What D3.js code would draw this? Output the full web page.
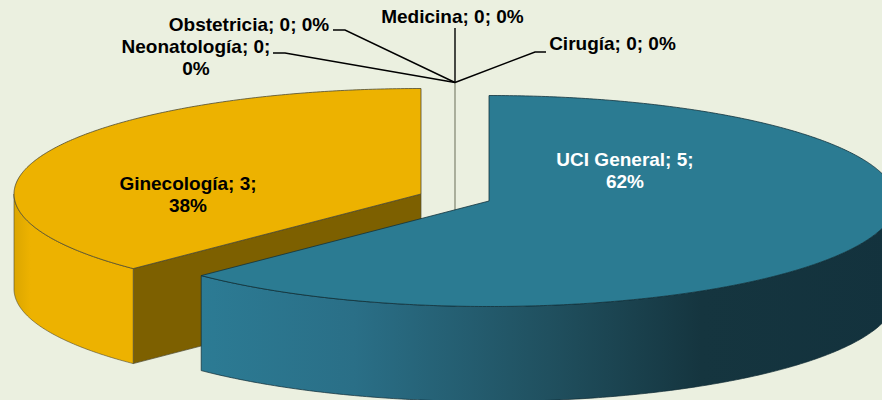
<!DOCTYPE html>
<html><head><meta charset="utf-8">
<script src="https://cdnjs.cloudflare.com/ajax/libs/d3/7.8.5/d3.min.js"></script>
<style>html,body{margin:0;padding:0;background:#EBF0E0}svg{display:block}text{font-family:"Liberation Sans",Arial,sans-serif;font-weight:bold;font-size:19px}</style>
</head><body><svg id="c" width="882" height="400"></svg>
<script>
const categories = ["UCI General","Ginecología","Neonatología","Obstetricia","Medicina","Cirugía"];
const values = [5,3,0,0,0,0];
const percents = [62,38,0,0,0,0];

const W=882,H=400,RX=407,RY=105.5,DEPTH=95;
const CENTER=[455,188];
const explode=[[34,13],[-34,6],[0,0],[0,0],[0,0],[0,0]];
const labelLayout=[
 {lines:["UCI General; 5;","62%"],x:625,y:166,fill:"#fff"},
 {lines:["Ginecología; 3;","38%"],x:188,y:190,fill:"#000"},
 {lines:["Neonatología; 0;","0%"],x:196,y:53,fill:"#000"},
 {lines:["Obstetricia; 0; 0%"],x:249,y:31,fill:"#000"},
 {lines:["Medicina; 0; 0%"],x:452.5,y:23,fill:"#000"},
 {lines:["Cirugía; 0; 0%"],x:612.5,y:50,fill:"#000"}];
const leaders=[null,null,
 [[273,53],[285,53]],[[333,30],[345,30]],[[455,28]],[[546,52],[535,52]]];

const svg=d3.select("#c");
svg.append("rect").attr("width",W).attr("height",H).attr("fill","#EBF0E0");
const defs=svg.append("defs");
function grad(id,stops,x1,x2){
  const g=defs.append("linearGradient").attr("id",id).attr("gradientUnits","userSpaceOnUse")
    .attr("x1",x1).attr("x2",x2).attr("y1",0).attr("y2",0);
  stops.forEach(s=>g.append("stop").attr("offset",s[0]).attr("stop-color",s[1]));
}
grad("wallTeal",[[0,"#2C7B94"],[.22,"#2A6F87"],[.5,"#20505F"],[.72,"#15353F"],[1,"#13323D"]],201,896);
grad("wallGold",[[0,"#DBA600"],[.14,"#EDB200"],[1,"#EDB200"]],14,133);

const pie=d3.pie().sort(null).value(d=>d).startAngle(0).endAngle(2*Math.PI);
const arcs=pie(values);
const px=d3.scaleLinear().domain([-1,1]).range([-RX,RX]);
const py=d3.scaleLinear().domain([-1,1]).range([-RY,RY]);
const pt=(a,c)=>[c[0]+px(Math.sin(a)),c[1]-py(Math.cos(a))];
const line=d3.line();
function arcPts(a0,a1,c,dy=0){
  const n=Math.max(2,Math.ceil(Math.abs(a1-a0)/0.01));
  return d3.range(n+1).map(i=>{const p=pt(a0+(a1-a0)*i/n,c);return [p[0],p[1]+dy];});
}
const centerOf=i=>[CENTER[0]+explode[i][0],CENTER[1]+explode[i][1]];
const edge="#4E4A30";
const g=svg.append("g");

g.append("line").attr("x1",CENTER[0]).attr("x2",CENTER[0])
  .attr("y1",CENTER[1]-RY).attr("y2",CENTER[1]+DEPTH)
  .attr("stroke","#8E927E").attr("stroke-width",1.4);

(function(){
  const a=arcs[1],c=centerOf(1),p=pt(a.startAngle,c);
  g.append("path").attr("d",line([c,p,[p[0],p[1]+DEPTH],[c[0],c[1]+DEPTH]])+"Z")
    .attr("fill","#7D6000").attr("stroke",edge).attr("stroke-width",.7);
  const top=arcPts(a.startAngle,Math.max(a.endAngle,0),c);
  const wallT=arcPts(a.startAngle,3*Math.PI/2,c);
  const wallB=arcPts(3*Math.PI/2,a.startAngle,c,DEPTH);
  g.append("path").attr("d",line(wallT.concat(wallB))+"Z").attr("fill","url(#wallGold)")
    .attr("stroke",edge).attr("stroke-width",.6);
  g.append("path").attr("d",line([c].concat(top))+"Z").attr("fill","#EDB200")
    .attr("stroke",edge).attr("stroke-width",.8);
})();

(function(){
  const a=arcs[0],c=centerOf(0);
  const wallT=arcPts(Math.PI/2,a.endAngle,c);
  const wallB=arcPts(a.endAngle,Math.PI/2,c,DEPTH);
  g.append("path").attr("d",line(wallT.concat(wallB))+"Z").attr("fill","url(#wallTeal)")
    .attr("stroke","#0F2A33").attr("stroke-width",.7);
  g.append("path").attr("d",line([c].concat(arcPts(a.startAngle,a.endAngle,c)))+"Z")
    .attr("fill","#2B7B92").attr("stroke","#12323C").attr("stroke-width",.8);
})();

const apex=[CENTER[0],CENTER[1]-RY];
leaders.forEach(l=>{ if(l) svg.append("path").attr("d",line(l.concat([apex])))
  .attr("fill","none").attr("stroke","#000").attr("stroke-width",1.4); });

labelLayout.forEach((l,i)=>{
  const t=svg.append("text").attr("text-anchor","middle").attr("fill",l.fill);
  l.lines.forEach((s,j)=>t.append("tspan").attr("x",l.x).attr("y",l.y+j*22).text(s));
});
</script></body></html>
